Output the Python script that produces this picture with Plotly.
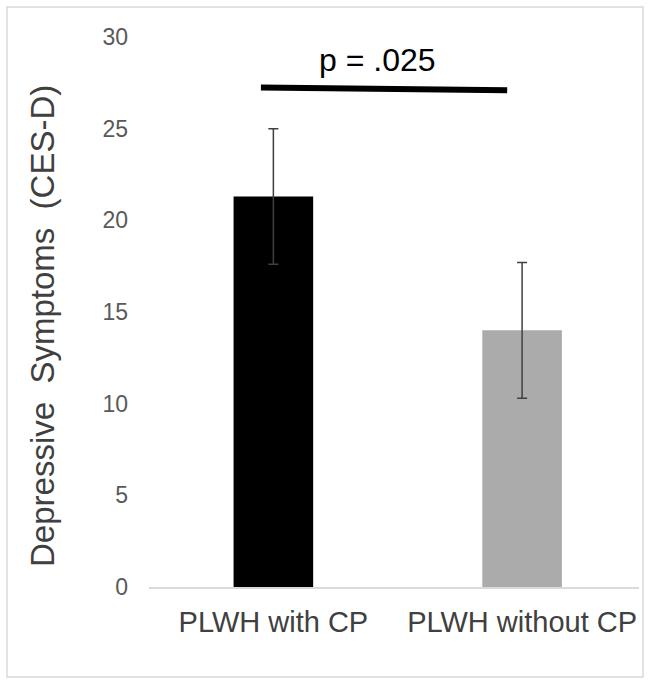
import plotly.graph_objects as go

categories = ["PLWH with CP", "PLWH without CP"]
means = [21.3, 14.0]
errors = [3.7, 3.7]
bar_colors = ["#000000", "#ababab"]
y_ticks = [0, 5, 10, 15, 20, 25, 30]
p_label = "p = .025"

W, H = 652, 685
ml, mr, mt, mb = 149, 13, 37, 98
pw = W - ml - mr
ph = H - mt - mb

def px_x(p):
    return (p - ml) / pw

def px_y(p):
    return (H - mb - p) / ph

fig = go.Figure()
fig.add_trace(go.Bar(
    x=[0, 1], y=means,
    marker=dict(color=bar_colors, line=dict(width=0)),
    width=0.32,
    error_y=dict(type="data", array=errors, visible=True, color="#404040", thickness=1.5, width=5),
    showlegend=False,
))

fig.update_layout(
    width=W, height=H,
    margin=dict(l=ml, r=mr, t=mt, b=mb),
    paper_bgcolor="white", plot_bgcolor="white",
    font=dict(family="Arial, Liberation Sans, sans-serif", color="#595959"),
    xaxis=dict(
        tickmode="array", tickvals=[0, 1], ticktext=categories,
        range=[-0.5, 1.47], showgrid=False, zeroline=False,
        showline=True, linecolor="#d9d9d9", linewidth=1.5,
        ticks="", tickfont=dict(size=29, color="#404040"),
        ticklabelstandoff=8,
    ),
    yaxis=dict(
        range=[0, 30], tickvals=y_ticks, showgrid=False, zeroline=False,
        showline=False, ticks="", tickfont=dict(size=23, color="#595959"),
        ticklabelstandoff=20,
    ),
    shapes=[
        dict(type="rect", xref="paper", yref="paper",
             x0=px_x(7), x1=px_x(643), y0=px_y(677), y1=px_y(7),
             line=dict(color="#d9d9d9", width=1.5), fillcolor="rgba(0,0,0,0)", layer="below"),
        dict(type="line", xref="x", yref="y",
             x0=-0.05, x1=0.94, y0=27.25, y1=27.1,
             line=dict(color="black", width=6)),
    ],
    annotations=[
        dict(x=0.42, y=28.72, xref="x", yref="y", text=p_label, showarrow=False,
             font=dict(size=32, color="black"), xanchor="center", yanchor="middle"),
        dict(x=px_x(43), y=px_y(326), xref="paper", yref="paper",
             text="Depressive&nbsp; Symptoms&nbsp; (CES-D)",
             textangle=-90, showarrow=False, font=dict(size=33, color="#404040"),
             xanchor="center", yanchor="middle"),
    ],
)

fig.write_html(
    "out.html",
    config={"displayModeBar": False},
    post_script="document.body.style.margin='0';document.body.style.overflow='hidden';",
)
